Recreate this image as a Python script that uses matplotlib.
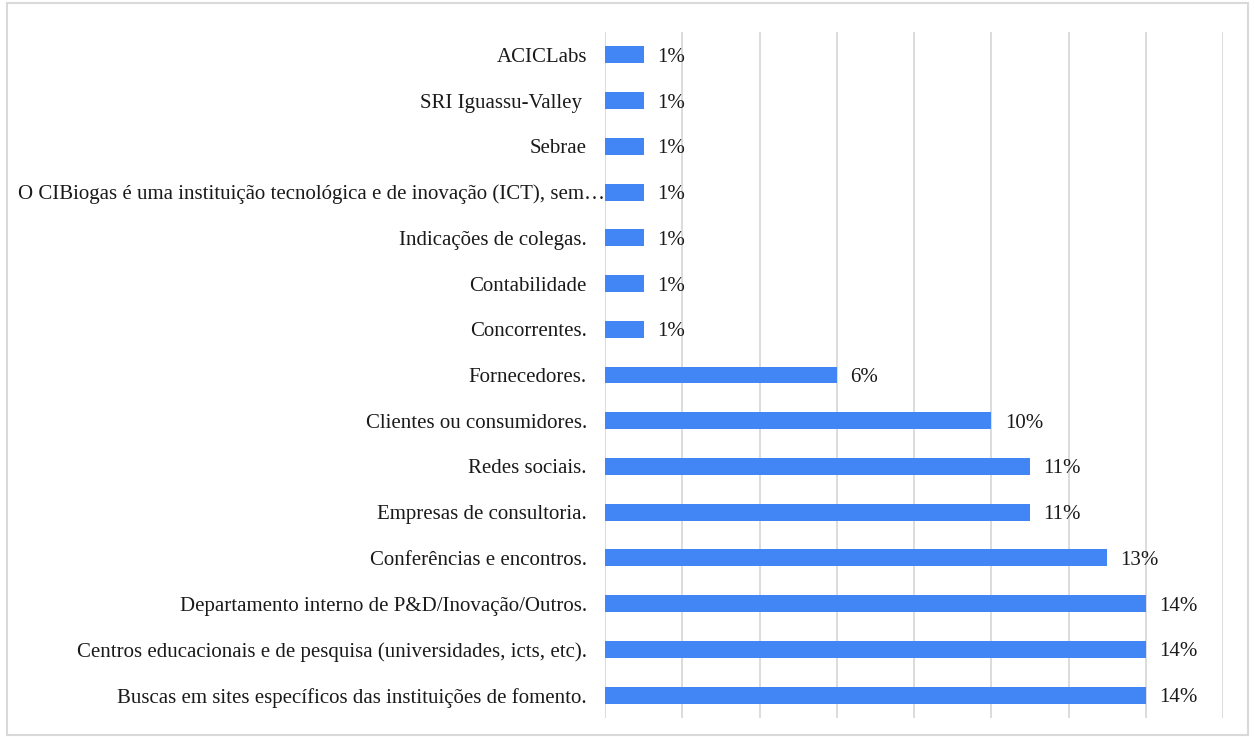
import matplotlib.pyplot as plt
from matplotlib.patches import Rectangle
from matplotlib.transforms import ScaledTranslation

# categories from bottom to top
categories = [
    "Buscas em sites específicos das instituições de fomento.",
    "Centros educacionais e de pesquisa (universidades, icts, etc).",
    "Departamento interno de P&D/Inovação/Outros.",
    "Conferências e encontros.",
    "Empresas de consultoria.",
    "Redes sociais.",
    "Clientes ou consumidores.",
    "Fornecedores.",
    "Concorrentes.",
    "Contabilidade",
    "Indicações de colegas.",
    "O CIBiogas é uma instituição tecnológica e de inovação (ICT), sem…",
    "Sebrae",
    "SRI Iguassu-Valley ",
    "ACICLabs",
]
shares = [14, 14, 14, 13, 11, 11, 10, 6, 1, 1, 1, 1, 1, 1, 1]

BAR_COLOR = "#4285F4"
TEXT_COLOR = "#1a1a1a"
plt.rcParams["font.family"] = ["Liberation Serif", "DejaVu Serif"]

fig = plt.figure(figsize=(12.55, 7.37), dpi=100)
ax = fig.add_axes([605 / 1255, 1 - 718 / 737, (1223 - 605) / 1255, (718 - 32) / 737])

ypos = range(len(categories))
ax.barh(ypos, shares, height=0.37, color=BAR_COLOR, zorder=3)
for y, v in zip(ypos, shares):
    ax.text(v + 0.35, y, f"{v}%", va="center_baseline", ha="left",
            fontsize=15, color=TEXT_COLOR)

ax.set_xlim(0, 16)
ax.set_ylim(-0.5, len(categories) - 0.5)
ax.set_xticks(range(0, 17, 2))
ax.set_xticklabels([])
ax.set_yticks(list(ypos))
ax.set_yticklabels(categories, fontsize=15, color=TEXT_COLOR, va="center_baseline")
ax.tick_params(axis="both", length=0, pad=13)

# the truncated label runs right up to the bar
for lbl in ax.get_yticklabels():
    if lbl.get_text().endswith("…"):
        lbl.set_transform(lbl.get_transform() + ScaledTranslation(0.18, 0, fig.dpi_scale_trans))

ax.grid(axis="x", color="#d9d9d9", linewidth=1.3, zorder=0)
for s in ax.spines.values():
    s.set_visible(False)

# light frame around the whole chart
fig.patches.append(Rectangle((7 / 1255, 2 / 737), 1241 / 1255, 732 / 737,
                             transform=fig.transFigure, fill=False,
                             edgecolor="#d9d9d9", linewidth=1.5))

fig.savefig("out.png", dpi=100)
